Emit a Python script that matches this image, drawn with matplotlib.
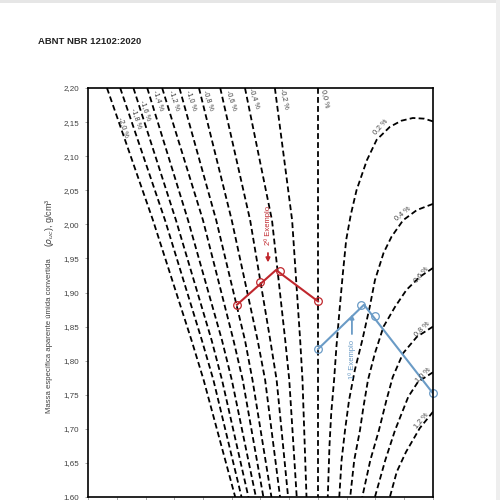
import matplotlib
matplotlib.use("Agg")
import matplotlib.pyplot as plt
from matplotlib.patches import Rectangle

plt.rcParams['font.family'] = ['Liberation Sans', 'DejaVu Sans']

# ---- data ----
title = "ABNT NBR 12102:2020"
ylabel_main = "Massa específica aparente úmida convertida"
ylabel_unit = r"($\rho_{uc}$), g/cm³"
y_ticks = [1.60, 1.65, 1.70, 1.75, 1.80, 1.85, 1.90, 1.95, 2.00, 2.05, 2.10, 2.15, 2.20]
x_ticks = [-4.0, -3.5, -3.0, -2.5, -2.0, -1.5, -1.0, -0.5, 0.0, 0.5, 1.0, 1.5, 2.0]

# left family (negative deviations): shared y levels
left_y = [2.20, 2.006, 1.83, 1.772, 1.60]
left_labels = ["-2,0 %", "-1,8 %", "-1,6 %", "-1,4 %", "-1,2 %", "-1,0 %",
               "-0,8 %", "-0,6 %", "-0,4 %", "-0,2 %", "0,0 %"]
left_x = [
    [-3.67, -2.87, -2.20, -1.99, -1.44],
    [-3.44, -2.66, -2.02, -1.82, -1.33],
    [-3.21, -2.47, -1.85, -1.67, -1.21],
    [-2.97, -2.26, -1.67, -1.50, -1.08],
    [-2.71, -2.00, -1.47, -1.31, -0.95],
    [-2.41, -1.77, -1.27, -1.14, -0.81],
    [-2.07, -1.50, -1.05, -0.92, -0.66],
    [-1.70, -1.18, -0.83, -0.72, -0.52],
    [-1.27, -0.80, -0.57, -0.50, -0.37],
    [-0.75, -0.45, -0.31, -0.27, -0.20],
    [0.0, 0.0, 0.0, 0.0, 0.0],
]
left_label_x = [-3.39, -3.16, -2.99, -2.77, -2.50, -2.20, -1.90, -1.51, -1.10, -0.58, 0.12]
left_label_y = [2.143, 2.156, 2.168, 2.182, 2.182, 2.182, 2.182, 2.182, 2.185, 2.185, 2.185]

# right family (positive deviations)
right_labels = ["0,2 %", "0,4 %", "0,6 %", "0,8 %", "1,0 %", "1,2 %"]
c02_x = [2.00, 1.85, 1.65, 1.45, 1.25, 1.02, 0.85, 0.67, 0.57, 0.49, 0.43, 0.37, 0.32, 0.28, 0.23, 0.20, 0.17]
c02_y = [2.151, 2.155, 2.156, 2.152, 2.143, 2.124, 2.094, 2.050, 2.014, 1.977, 1.926, 1.870, 1.820, 1.772, 1.723, 1.676, 1.60]
c04_x = [2.00, 1.72, 1.48, 1.28, 1.14, 0.99, 0.90, 0.77, 0.64, 0.54, 0.47, 0.41, 0.37]
c04_y = [2.030, 2.021, 2.006, 1.982, 1.958, 1.918, 1.879, 1.830, 1.786, 1.742, 1.698, 1.654, 1.60]
c06_x = [2.00, 1.77, 1.54, 1.34, 1.14, 0.99, 0.87, 0.79, 0.73, 0.63, 0.56]
c06_y = [1.936, 1.923, 1.904, 1.879, 1.850, 1.811, 1.772, 1.732, 1.698, 1.654, 1.60]
c08_x = [2.00, 1.72, 1.48, 1.30, 1.19, 1.06, 0.91, 0.77]
c08_y = [1.850, 1.835, 1.811, 1.776, 1.742, 1.698, 1.654, 1.60]
c10_x = [2.00, 1.74, 1.57, 1.34, 1.17, 0.99]
c10_y = [1.783, 1.769, 1.747, 1.698, 1.654, 1.60]
c12_x = [2.00, 1.77, 1.53, 1.37, 1.25]
c12_y = [1.725, 1.701, 1.666, 1.637, 1.60]
right_x = [c02_x, c04_x, c06_x, c08_x, c10_x, c12_x]
right_y = [c02_y, c04_y, c06_y, c08_y, c10_y, c12_y]
right_label_x = [1.08, 1.47, 1.80, 1.80, 1.83, 1.80]
right_label_y = [2.143, 2.016, 1.926, 1.847, 1.779, 1.713]
right_label_rot = [48, 40, 50, 45, 45, 50]

# example 2 (red)
ex2_pts_x = [-1.41, -1.00, -0.66, 0.0]
ex2_pts_y = [1.882, 1.915, 1.931, 1.887]
ex2_line_x = [-1.41, -0.73, 0.0]
ex2_line_y = [1.882, 1.933, 1.887]
ex2_text = "2º Exemplo"
# example 1 (blue)
ex1_pts_x = [0.0, 0.75, 0.99, 2.0]
ex1_pts_y = [1.817, 1.882, 1.866, 1.752]
ex1_line_x = [0.0, 0.80, 2.0]
ex1_line_y = [1.817, 1.882, 1.752]
ex1_text = "1º Exemplo"

red = '#C0272D'
blue = '#6A9BC6'
grey = '#404040'

fig = plt.figure(figsize=(5, 5), dpi=100)
ax = fig.add_axes([88/500, 3/500, 345/500, 409/500])

dash = (3.2, 1.8)
for xs in left_x:
    ax.plot(xs, left_y, color='black', lw=1.3, dashes=dash)
for xs, ys in zip(right_x, right_y):
    ax.plot(xs, ys, color='black', lw=1.3, dashes=dash)

for x, y, lab in zip(left_label_x, left_label_y, left_labels):
    rot = -72 if lab not in ("-0,2 %", "0,0 %") else -78
    ax.text(x, y, lab, fontsize=5.2, color=grey, rotation=rot,
            ha='center', va='center', rotation_mode='anchor')
for x, y, lab, r in zip(right_label_x, right_label_y, right_labels, right_label_rot):
    ax.text(x, y, lab, fontsize=5.2, color=grey, rotation=r,
            ha='center', va='center', rotation_mode='anchor')

# examples
ax.plot(ex2_line_x, ex2_line_y, color=red, lw=1.5)
ax.plot(ex2_pts_x, ex2_pts_y, ls='none', marker='o', ms=5.5, mfc='none', mec=red, mew=0.9)
ax.plot(ex1_line_x, ex1_line_y, color=blue, lw=1.5)
ax.plot(ex1_pts_x, ex1_pts_y, ls='none', marker='o', ms=5.5, mfc='none', mec=blue, mew=0.9, clip_on=False)

ax.annotate("", xy=(-0.87, 1.940), xytext=(-0.87, 1.962),
            arrowprops=dict(arrowstyle='-|>', color=red, lw=1.3, mutation_scale=6))
ax.text(-0.87, 1.998, ex2_text, color=red, fontsize=5.5, rotation=90,
        ha='center', va='center')
ax.annotate("", xy=(0.59, 1.872), xytext=(0.59, 1.835),
            arrowprops=dict(arrowstyle='-|>', color=blue, lw=1.3, mutation_scale=6))
ax.text(0.59, 1.802, ex1_text, color=blue, fontsize=5.5, rotation=90,
        ha='center', va='center')

ax.set_xlim(-4, 2)
ax.set_ylim(1.60, 2.20)
ax.set_xticks(x_ticks)
ax.set_xticklabels([])
ax.set_yticks(y_ticks)
ax.set_yticklabels([f"{v:.2f}".replace('.', ',') for v in y_ticks])
ax.tick_params(axis='both', direction='out', length=2.5, width=0.6, color='#999999',
               labelsize=5.8, labelcolor=grey, pad=4)
for s in ax.spines.values():
    s.set_linewidth(1.2)
    s.set_color('black')

fig.text(38/500, 1 - 41/500, title, fontsize=6.8, fontweight='bold', color='#222222',
         ha='left', va='center')
fig.text(50/500, 1 - 336/500, ylabel_main, fontsize=5.6, color=grey, rotation=90,
         ha='center', va='center')
fig.text(50/500, 1 - 223/500, ylabel_unit, fontsize=6.5, color=grey, rotation=90,
         ha='center', va='center')

# light page border seen in the reference
fig.add_artist(Rectangle((0, 1 - 3/500), 1, 3/500, transform=fig.transFigure,
                         facecolor='#e6e6e6', edgecolor='none'))
fig.add_artist(Rectangle((1 - 4/500, 0), 4/500, 1, transform=fig.transFigure,
                         facecolor='#eeeeee', edgecolor='none'))

fig.savefig('out.png', dpi=100, facecolor='white')
